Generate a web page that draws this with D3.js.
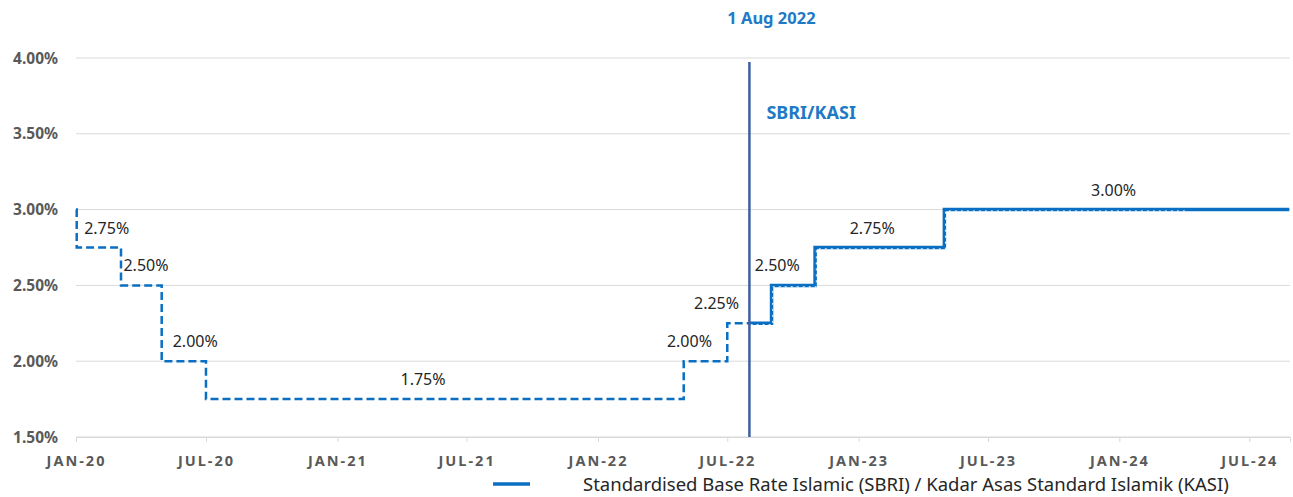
<!DOCTYPE html>
<html>
<head>
<meta charset="utf-8">
<script src="https://cdn.jsdelivr.net/npm/d3@7"></script>
<style>
  body { margin: 0; background: #fff; }
  svg { display: block; font-family: "Noto Sans", "Open Sans", sans-serif; }
</style>
</head>
<body>
<svg id="chart"></svg>
<script>
// OPR history (dashed) and SBRI/KASI (solid), step changes
const oprDates = ['2020-01-01', '2020-01-02', '2020-03-04', '2020-04-30', '2020-07-01', '2022-05-01', '2022-07-01', '2022-09-01', '2022-11-01', '2023-05-01', '2024-04-01'];
const oprRates = [3.00, 2.75, 2.50, 2.00, 1.75, 2.00, 2.25, 2.50, 2.75, 3.00, 3.00];

const sbriDates = ['2022-08-01', '2022-09-01', '2022-11-01', '2023-05-01', '2024-08-26'];
const sbriRates = [2.25, 2.50, 2.75, 3.00, 3.00];

// data labels
const labelDates = ['2020-02-13', '2020-04-08', '2020-06-16', '2021-05-01', '2022-05-09', '2022-06-16', '2022-09-09', '2023-01-20', '2023-12-24'];
const labelRates = [2.75, 2.50, 2.00, 1.75, 2.00, 2.25, 2.50, 2.75, 3.00];

const yTicks = [1.5, 2.0, 2.5, 3.0, 3.5, 4.0];
const xTickDates = ['2020-01-01', '2020-07-01', '2021-01-01', '2021-07-01', '2022-01-01', '2022-07-01', '2023-01-01', '2023-07-01', '2024-01-01', '2024-07-01'];
const markerDate = '2022-08-01';
const legendLabel = 'Standardised Base Rate Islamic (SBRI) / Kadar Asas Standard Islamik (KASI)';

const width = 1293, height = 497;
const margin = { top: 58, right: 3, bottom: 60, left: 76 };
const parse = d3.timeParse('%Y-%m-%d');

const svg = d3.select('#chart').attr('width', width).attr('height', height);

const x = d3.scaleTime()
  .domain([parse('2020-01-01'), parse('2024-08-27')])
  .range([margin.left, width - margin.right]);
const y = d3.scaleLinear()
  .domain([1.5, 4.0])
  .range([height - margin.bottom, margin.top]);

const blue = '#0a6fc2';

// gridlines
svg.append('g')
  .selectAll('line')
  .data(yTicks)
  .join('line')
  .attr('x1', margin.left).attr('x2', width - margin.right)
  .attr('y1', d => y(d)).attr('y2', d => y(d))
  .attr('stroke', '#d9d9d9').attr('stroke-width', 1);

// y axis labels
svg.append('g')
  .selectAll('text')
  .data(yTicks)
  .join('text')
  .attr('x', 58).attr('y', d => y(d) + 5.5)
  .attr('text-anchor', 'end')
  .attr('font-size', 15.5).attr('font-weight', 700)
  .attr('fill', '#595959')
  .text(d => d3.format('.2f')(d) + '%');

// x axis
const xAxis = svg.append('g')
  .attr('transform', `translate(0,${y(1.5)})`)
  .call(d3.axisBottom(x)
    .tickValues(xTickDates.map(parse))
    .tickSize(5)
    .tickPadding(14)
    .tickFormat(d => d3.timeFormat('%b-%y')(d).toUpperCase()));
xAxis.select('.domain').attr('stroke', '#d9d9d9');
xAxis.selectAll('.tick line').attr('stroke', '#d9d9d9');
xAxis.selectAll('.tick text')
  .attr('font-family', '"Noto Sans", sans-serif')
  .attr('font-size', 14.5).attr('font-weight', 700)
  .attr('letter-spacing', 2)
  .attr('fill', '#595959');

const stepLine = d3.line()
  .x(d => x(d.date))
  .y(d => y(d.rate))
  .curve(d3.curveStepAfter);

const oprData = oprDates.map((d, i) => ({ date: parse(d), rate: oprRates[i] }));
const sbriData = sbriDates.map((d, i) => ({ date: parse(d), rate: sbriRates[i] }));

// dashed history line
svg.append('path')
  .datum(oprData)
  .attr('d', stepLine)
  .attr('fill', 'none')
  .attr('stroke', blue)
  .attr('stroke-width', 2.5)
  .attr('stroke-dasharray', '8,4');

// solid SBRI line
svg.append('path')
  .datum(sbriData)
  .attr('d', stepLine)
  .attr('fill', 'none')
  .attr('stroke', blue)
  .attr('stroke-width', 3.5);

// dotted overlap where both series share the path
const overlap = oprData.filter(d => d.date >= parse(markerDate));
overlap.unshift({ date: parse(markerDate), rate: 2.25 });
svg.append('path')
  .datum(overlap)
  .attr('d', stepLine)
  .attr('transform', 'translate(1.2,1.4)')
  .attr('fill', 'none')
  .attr('stroke', '#fff')
  .attr('stroke-width', 1)
  .attr('stroke-dasharray', '2,4');

// vertical marker line
svg.append('line')
  .attr('x1', x(parse(markerDate))).attr('x2', x(parse(markerDate)))
  .attr('y1', 62).attr('y2', y(1.5))
  .attr('stroke', '#3f5fa3').attr('stroke-width', 2.5);

svg.append('text')
  .attr('x', x(parse(markerDate)) + 22).attr('y', 24)
  .attr('text-anchor', 'middle')
  .attr('font-size', 16.5).attr('font-weight', 700)
  .attr('fill', '#1f7ac6')
  .text('1 Aug 2022');

svg.append('text')
  .attr('x', x(parse(markerDate)) + 17).attr('y', 119)
  .attr('font-size', 18).attr('font-weight', 700)
  .attr('fill', '#1f7ac6')
  .text('SBRI/KASI');

// data labels
svg.append('g')
  .selectAll('text')
  .data(labelDates.map((d, i) => ({ date: parse(d), rate: labelRates[i] })))
  .join('text')
  .attr('x', d => x(d.date))
  .attr('y', d => y(d.rate) - 14)
  .attr('text-anchor', 'middle')
  .attr('font-size', 16)
  .attr('fill', '#262626')
  .text(d => d3.format('.2f')(d.rate) + '%');

// legend
const legend = svg.append('g').attr('transform', 'translate(493,484)');
legend.append('line')
  .attr('x1', 0).attr('x2', 37)
  .attr('stroke', blue).attr('stroke-width', 3.5);
legend.append('text')
  .attr('x', 90).attr('y', 6.5)
  .attr('font-size', 18.5)
  .attr('fill', '#262626')
  .text(legendLabel);
</script>
</body>
</html>
